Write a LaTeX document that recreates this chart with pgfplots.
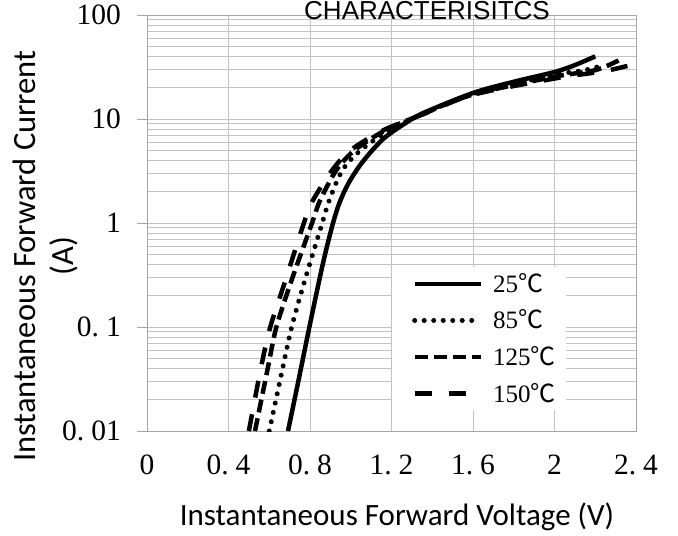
\documentclass[border=0pt]{standalone}
\usepackage{fontspec}
\usepackage{pgfplots}
\pgfplotsset{compat=1.18}
\setmainfont{Liberation Serif}
\newfontfamily\labfont{Carlito}
\newfontfamily\titlefont{Liberation Sans}
\newfontfamily\cjk{Noto Sans CJK SC}
\definecolor{gridc}{RGB}{195,195,195}
\definecolor{axc}{RGB}{165,165,165}
\newcommand{\degC}{{\cjk ℃}}
\begin{document}
\begin{tikzpicture}
\begin{axis}[
  at={(147bp,105bp)}, anchor=south west,
  width=489bp, height=416bp, scale only axis,
  xmin=0, xmax=2.4, ymin=0.01, ymax=100, ymode=log,
  axis line style={axc, line width=1bp},
  xtick={0,0.4,0.8,1.2,1.6,2,2.4},
  xticklabels={0, 0.\kern7bp 4, 0.\kern7bp 8, 1.\kern7bp 2, 1.\kern7bp 6, 2, 2.\kern7bp 4},
  ytick={0.01,0.1,1,10,100},
  yticklabels={0.\kern7bp 01, 0.\kern7bp 1, 1, 10, 100},
  xmajorgrids, ymajorgrids, yminorgrids,
  major grid style={gridc, line width=1bp},
  minor grid style={gridc, line width=1bp},
  x tick style={draw=none},
  y tick style={axc, line width=1bp},
  major tick length=10bp, minor tick length=0bp,
  tick align=outside, tick pos=left,
  xticklabel style={font=\fontsize{29.5bp}{30bp}\selectfont, anchor=base, inner sep=0pt, yshift=-34bp},
  yticklabel style={font=\fontsize{29.5bp}{30bp}\selectfont, anchor=east, inner sep=0pt, xshift=-16bp},
  legend style={at={(0.501,0.394)}, anchor=north west, draw=none, fill=white,
    font=\fontsize{25bp}{26bp}\selectfont, inner xsep=10bp, inner ysep=8bp,
    row sep=19.6bp, nodes={inner sep=0pt, text height=17bp, text depth=0bp}},
  legend cell align=left,
  legend image code/.code={\path (0bp,0bp); \draw[#1] (10bp,0bp) -- (76bp,0bp); \path (86bp,0bp);},
]
\addplot[black, line width=4.5bp, smooth] coordinates {
(0.692,0.01) (0.745,0.0316) (0.797,0.1) (0.851,0.316) (0.88,0.56) (0.913,1) (0.94,1.48) (0.97,2.04) (1.0,2.63) (1.04,3.47) (1.08,4.37) (1.12,5.37) (1.16,6.46) (1.2,7.41) (1.26,8.91) (1.355,11.4) (1.6,17.8) (1.8,22.8) (2.0,28.3) (2.1,33) (2.2,40)};
\addlegendentry{25\degC}
\addplot[black, line width=5bp, line cap=round, dash pattern=on 0.01bp off 9.5bp, smooth] coordinates {
(0.60,0.01) (0.667,0.0412) (0.71,0.1) (0.775,0.283) (0.86,1) (0.895,1.66) (0.96,3.24) (1.05,5.03) (1.19,7.8) (1.355,11.2) (1.6,17.4) (2.0,26.5) (2.15,29.5) (2.24,33)};
\addlegendentry{85\degC}
\addplot[black, line width=4.5bp, dash pattern=on 13bp off 6bp, smooth] coordinates {
(0.53,0.01) (0.594,0.0412) (0.635,0.1) (0.71,0.283) (0.81,1) (0.85,1.66) (0.93,3.24) (1.02,5.03) (1.17,7.8) (1.355,11.2) (1.6,17.2) (2.0,25.5) (2.2,29.5) (2.32,37)};
\addlegendentry{125\degC}
\addplot[black, line width=4.5bp, dash pattern=on 17bp off 17bp, smooth] coordinates {
(0.50,0.01) (0.56,0.0412) (0.605,0.1) (0.68,0.283) (0.77,1) (0.815,1.66) (0.91,3.24) (1.0,5.03) (1.16,7.8) (1.355,11.1) (1.6,17.1) (2.0,24.5) (2.25,29) (2.4,34)};
\addlegendentry{150\degC}
\end{axis}
\node[anchor=base, font=\titlefont\fontsize{26bp}{27bp}\selectfont, inner sep=0pt] at (427bp,516bp) {CHARACTERISITCS};
\node[anchor=base, rotate=90, font=\labfont\fontsize{32.5bp}{33bp}\selectfont, inner sep=0pt] at (35bp,280bp) {Instantaneous Forward Current};
\node[anchor=base, rotate=90, font=\labfont\fontsize{32.5bp}{33bp}\selectfont, inner sep=0pt] at (73bp,280bp) {(A)};
\node[anchor=base, font=\labfont\fontsize{31bp}{32bp}\selectfont, inner sep=0pt] at (397bp,11bp) {Instantaneous Forward Voltage (V)};
\pgfresetboundingbox
\useasboundingbox (0,0) rectangle (678bp,536bp);
\end{tikzpicture}
\end{document}
